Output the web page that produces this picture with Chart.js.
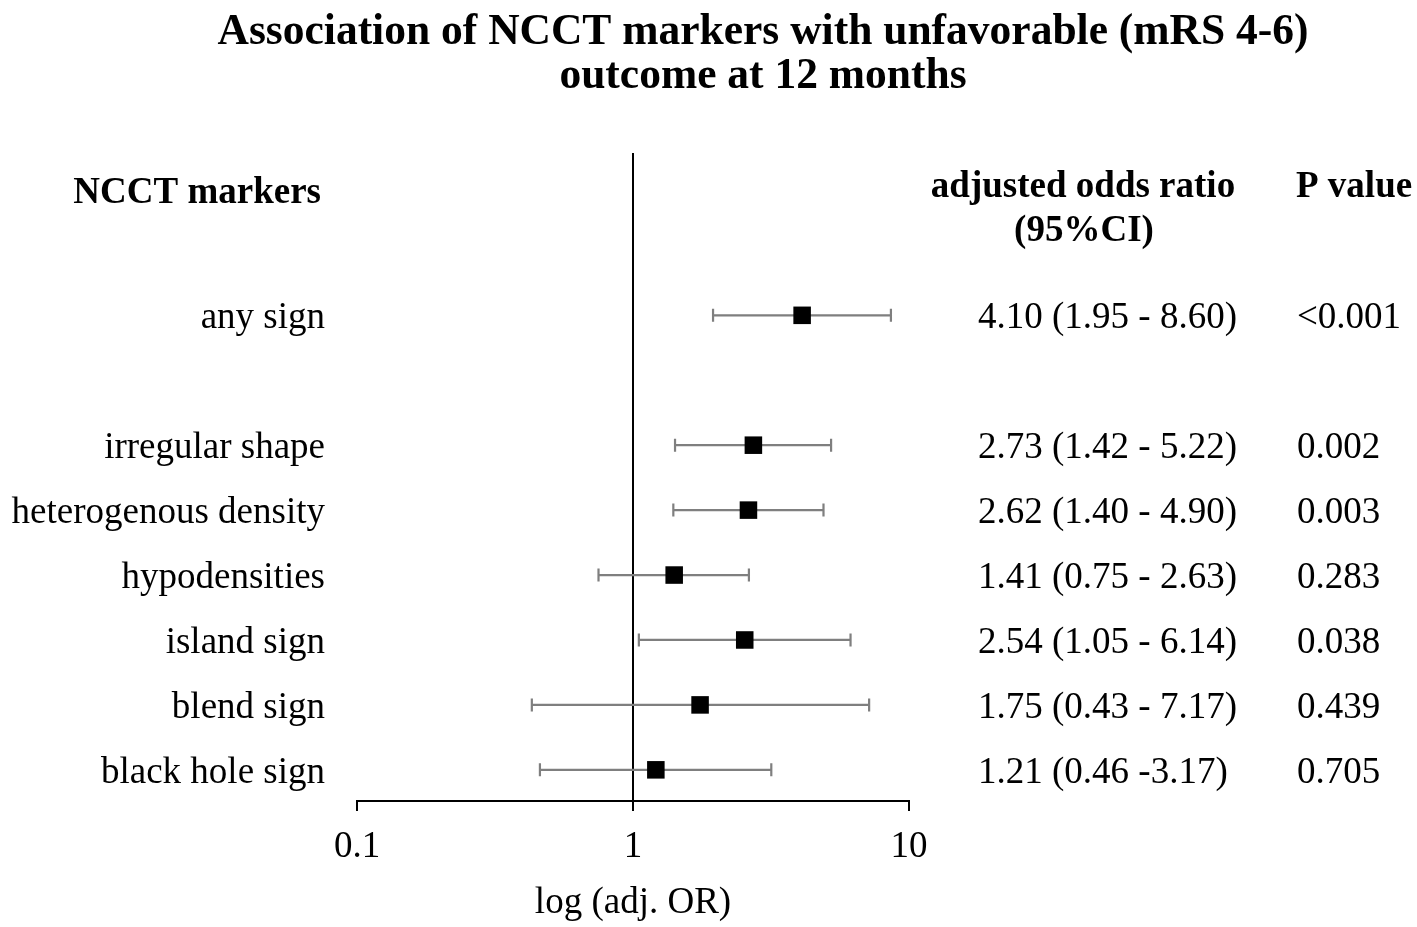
<!DOCTYPE html>
<html>
<head>
<meta charset="utf-8">
<script src="https://cdn.jsdelivr.net/npm/chart.js@4/dist/chart.umd.min.js"></script>
<style>
  html, body { margin: 0; padding: 0; background: #fff; }
  #wrap { width: 1417px; height: 927px; position: relative; }
</style>
</head>
<body>
<div id="wrap"><canvas id="c" width="1417" height="927"></canvas></div>
<script>
const titleLines = ['Association of NCCT markers with unfavorable (mRS 4-6)', 'outcome at 12 months'];
const markers = ['any sign', 'irregular shape', 'heterogenous density', 'hypodensities', 'island sign', 'blend sign', 'black hole sign'];
const rowIndex = [0, 2, 3, 4, 5, 6, 7];
const oddsRatio = [4.10, 2.73, 2.62, 1.41, 2.54, 1.75, 1.21];
const ciLower = [1.95, 1.42, 1.40, 0.75, 1.05, 0.43, 0.46];
const ciUpper = [8.60, 5.22, 4.90, 2.63, 6.14, 7.17, 3.17];
const orText = ['4.10 (1.95 - 8.60)', '2.73 (1.42 - 5.22)', '2.62 (1.40 - 4.90)', '1.41 (0.75 - 2.63)', '2.54 (1.05 - 6.14)', '1.75 (0.43 - 7.17)', '1.21 (0.46 -3.17)'];
const pValues = ['<0.001', '0.002', '0.003', '0.283', '0.038', '0.439', '0.705'];
const xTicks = [0.1, 1, 10];
const headers = { marker: 'NCCT markers', or1: 'adjusted odds ratio', or2: '(95%CI)', p: 'P value' };
const xTitle = 'log (adj. OR)';

const SERIF = '"Liberation Serif", "Times New Roman", serif';

const errorBars = {
  id: 'errorBars',
  beforeDatasetsDraw(chart) {
    const xs = chart.scales.x, ys = chart.scales.y, ctx = chart.ctx;
    ctx.save();
    ctx.strokeStyle = '#7f7f7f';
    ctx.lineWidth = 2.2;
    for (let i = 0; i < oddsRatio.length; i++) {
      const y = ys.getPixelForValue(rowIndex[i]);
      const x1 = xs.getPixelForValue(ciLower[i]);
      const x2 = xs.getPixelForValue(ciUpper[i]);
      ctx.beginPath();
      ctx.moveTo(x1, y); ctx.lineTo(x2, y);
      ctx.moveTo(x1, y - 6.5); ctx.lineTo(x1, y + 6.5);
      ctx.moveTo(x2, y - 6.5); ctx.lineTo(x2, y + 6.5);
      ctx.stroke();
    }
    ctx.restore();
  }
};

const textPlugin = {
  id: 'texts',
  afterDraw(chart) {
    const ys = chart.scales.y, ctx = chart.ctx;
    ctx.save();
    ctx.fillStyle = '#000';
    ctx.textBaseline = 'middle';
    // title
    ctx.font = 'bold 43.5px ' + SERIF;
    ctx.textAlign = 'center';
    ctx.fillText(titleLines[0], 763, 33);
    ctx.fillText(titleLines[1], 763, 77);
    // headers
    ctx.font = 'bold 37px ' + SERIF;
    ctx.textAlign = 'right';
    ctx.fillText(headers.marker, 321, 193);
    ctx.textAlign = 'center';
    ctx.fillText(headers.or1, 1083, 187);
    ctx.fillText(headers.or2, 1084, 231);
    ctx.textAlign = 'left';
    ctx.fillText(headers.p, 1296, 187);
    // rows
    ctx.font = '37px ' + SERIF;
    for (let i = 0; i < markers.length; i++) {
      const y = ys.getPixelForValue(rowIndex[i]) + 3;
      ctx.textAlign = 'right';
      ctx.fillText(markers[i], 325, y);
      ctx.textAlign = 'left';
      ctx.fillText(orText[i], 978, y);
      ctx.fillText(pValues[i], 1297, y);
    }
    ctx.restore();
  }
};

new Chart(document.getElementById('c'), {
  type: 'scatter',
  data: {
    datasets: [{
      data: oddsRatio.map((v, i) => ({ x: v, y: rowIndex[i] })),
      pointStyle: 'rect',
      pointRadius: 12.4,
      pointHoverRadius: 12.4,
      backgroundColor: '#000',
      borderColor: '#000',
      borderWidth: 0
    }]
  },
  options: {
    responsive: false,
    animation: false,
    devicePixelRatio: 1,
    layout: { padding: { left: 357, right: 508, top: 153, bottom: 0 } },
    plugins: { legend: { display: false }, tooltip: { enabled: false }, title: { display: false } },
    scales: {
      x: {
        type: 'logarithmic',
        min: 0.1,
        max: 10,
        afterBuildTicks(s) { s.ticks = xTicks.map(v => ({ value: v })); },
        afterFit(s) { s.height = 126; },
        ticks: {
          color: '#000',
          font: { family: SERIF, size: 37 },
          padding: 14,
          maxRotation: 0,
          autoSkip: false,
          callback: v => String(v)
        },
        grid: {
          color: c => (c.tick && c.tick.value === 1) ? '#000' : 'rgba(0,0,0,0)',
          tickColor: '#000',
          tickLength: 10,
          lineWidth: 2,
          drawTicks: true
        },
        border: { display: true, color: '#000', width: 2 },
        title: {
          display: true,
          text: xTitle,
          color: '#000',
          font: { family: SERIF, size: 37 },
          padding: { top: 0, bottom: 2 }
        }
      },
      y: {
        type: 'linear',
        reverse: true,
        min: -2.5,
        max: 7.48,
        display: false
      }
    }
  },
  plugins: [errorBars, textPlugin]
});
</script>
</body>
</html>
